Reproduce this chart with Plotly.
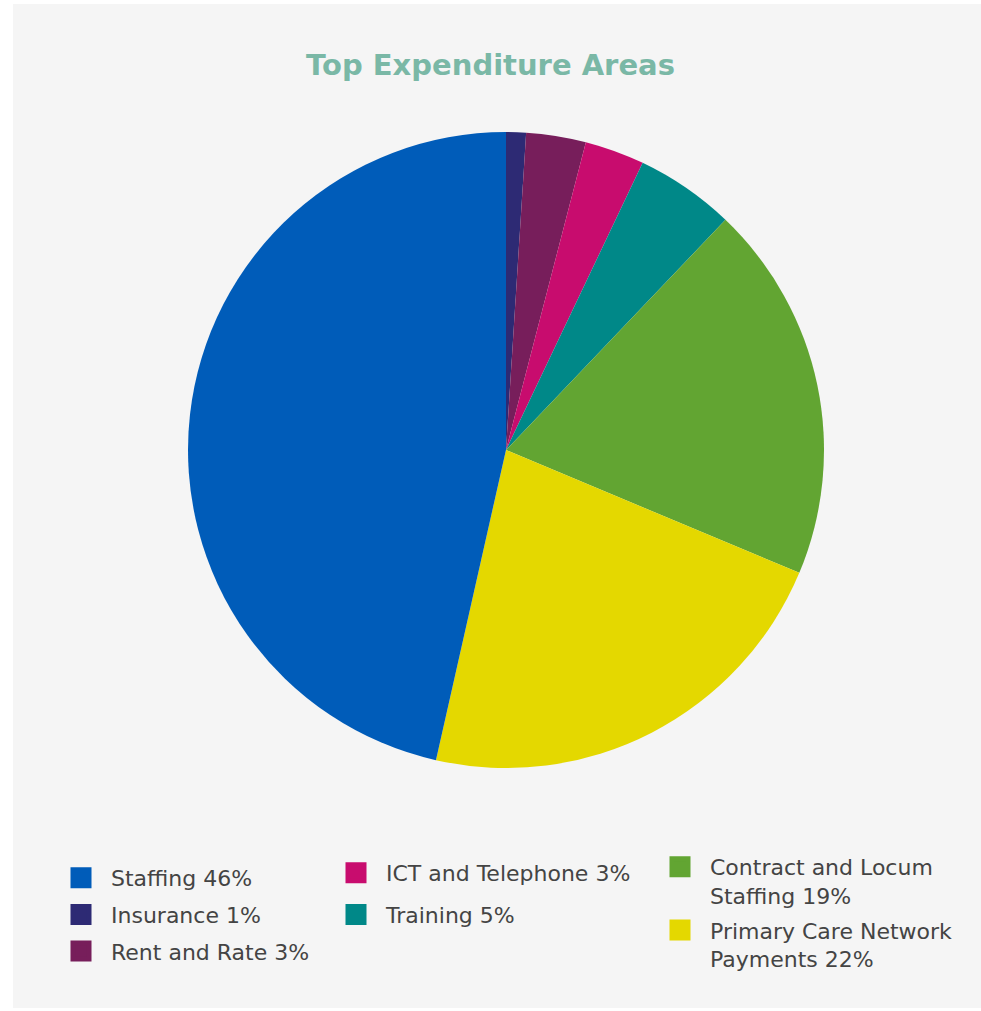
import plotly.graph_objects as go

# Data (clockwise from 12 o'clock)
labels = ["Insurance", "Rent and Rate", "ICT and Telephone", "Training",
          "Contract and Locum Staffing", "Primary Care Network Payments", "Staffing"]
values = [1, 3, 3, 5, 19, 22, 46]
colors = ["#2d2a74", "#771e5b", "#c80c6e", "#008888", "#62a532", "#e4d800", "#005cb9"]

# Legend texts (with line breaks) and column layout
legend_names = {
    "Staffing": "Staffing 46%",
    "Insurance": "Insurance 1%",
    "Rent and Rate": "Rent and Rate 3%",
    "ICT and Telephone": "ICT and Telephone 3%",
    "Training": "Training 5%",
    "Contract and Locum Staffing": "Contract and Locum<br>Staffing 19%",
    "Primary Care Network Payments": "Primary Care Network<br>Payments 22%",
}
legend_columns = [
    ["Staffing", "Insurance", "Rent and Rate"],
    ["ICT and Telephone", "Training"],
    ["Contract and Locum Staffing", "Primary Care Network Payments"],
]

W, H = 981, 1011
fig = go.Figure()

cx, cy, r = 506, 450, 318
fig.add_trace(go.Pie(
    labels=labels, values=values, sort=False, direction="clockwise", rotation=0,
    marker=dict(colors=colors, line=dict(width=0)),
    textinfo="none", hoverinfo="label+percent", showlegend=False,
    domain=dict(x=[(cx - r) / W, (cx + r) / W], y=[(H - cy - r) / H, (H - cy + r) / H]),
))

legend_keys = ["legend", "legend2", "legend3"]
for key, col in zip(legend_keys, legend_columns):
    for lab in col:
        c = colors[labels.index(lab)]
        fig.add_trace(go.Scatter(
            x=[None], y=[None], mode="markers", name=legend_names[lab],
            marker=dict(symbol="square", size=16, color=c, line=dict(color=c, width=5)),
            legend=key, legendgroup=lab, showlegend=True,
        ))

leg_font = dict(family="DejaVu Sans", size=22, color="#444444")


def leg(x, y, gap, valign="middle"):
    return dict(x=x / W, y=1 - y / H, bgcolor="rgba(0,0,0,0)", font=leg_font,
                xanchor="left", yanchor="top", tracegroupgap=gap, itemwidth=50,
                valign=valign)


fig.update_layout(
    width=W, height=H,
    margin=dict(l=0, r=0, t=0, b=0),
    paper_bgcolor="#ffffff", plot_bgcolor="rgba(0,0,0,0)",
    title=dict(text="<b>Top Expenditure Areas</b>", x=0.5, xanchor="center",
               y=1 - 65 / H, yanchor="middle",
               font=dict(family="DejaVu Sans", size=29, color="#7ab8a6")),
    xaxis=dict(visible=False), yaxis=dict(visible=False),
    legend=leg(51, 857, 5),
    legend2=leg(326, 852, 10),
    legend3=leg(650, 846, 3, "top"),
    shapes=[dict(type="rect", xref="paper", yref="paper", x0=13 / W, x1=1.0,
                 y0=1 - 1008 / H, y1=1 - 4 / H, fillcolor="#f5f5f5",
                 line=dict(width=0), layer="below")],
)

fig.write_html("out.html", config={"displayModeBar": False},
               post_script="document.body.style.margin='0';")
